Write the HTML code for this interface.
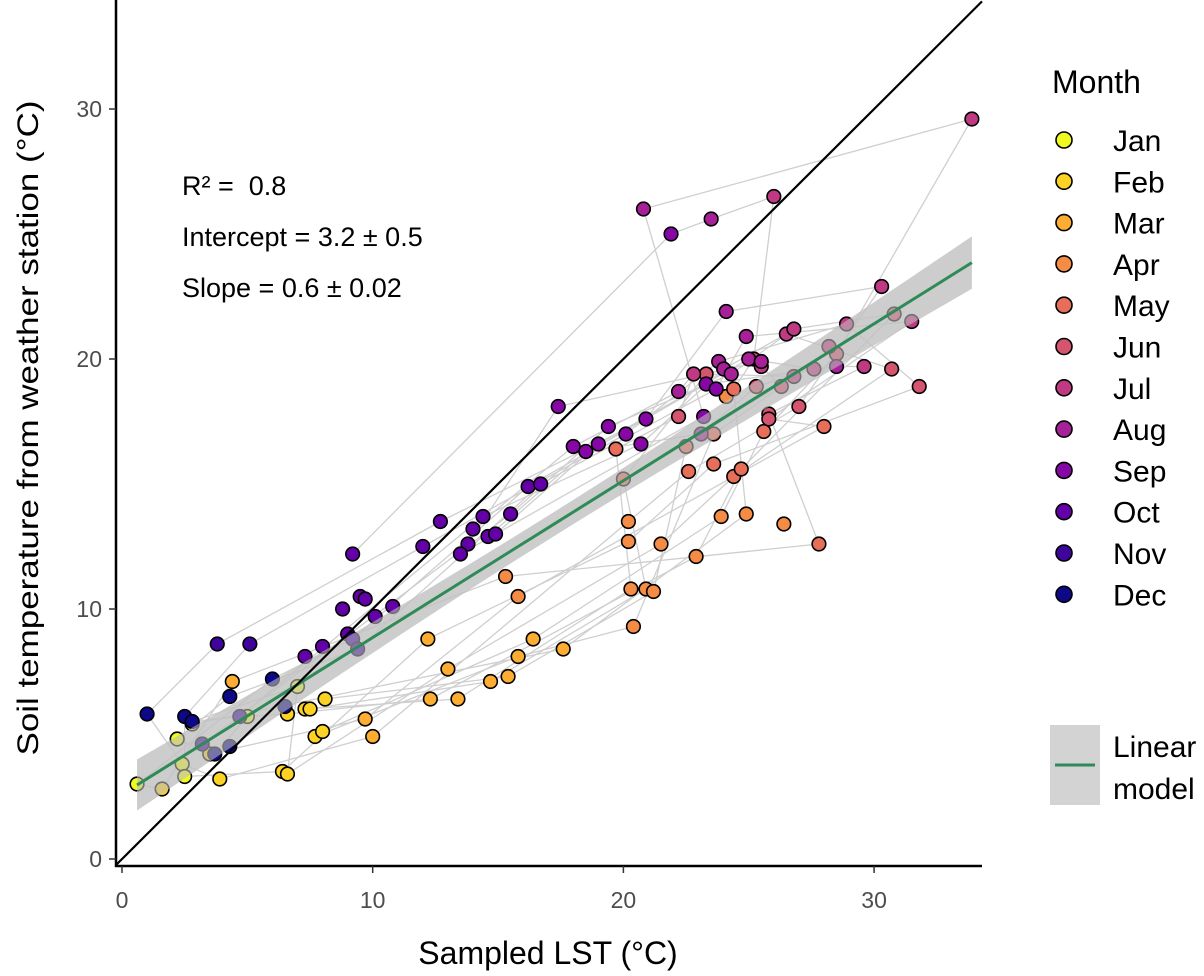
<!DOCTYPE html>
<html><head><meta charset="utf-8">
<style>
html,body{margin:0;padding:0;background:#fff;}
svg{display:block;font-family:"Liberation Sans Narrow","Liberation Sans",sans-serif;}
</style></head>
<body>
<svg id="chart" width="1204" height="976" viewBox="0 0 1204 976">
  <g id="grey-lines"></g>
  <g id="ribbon-g"></g>
  <g id="points"></g>
  <g id="ribbon-top"></g>
  <g id="axes"></g>
  <text x="182" y="195" font-size="27" xml:space="preserve">R² =  0.8</text>
  <text x="182" y="246" font-size="27">Intercept = 3.2 ± 0.5</text>
  <text x="182" y="297" font-size="27">Slope = 0.6 ± 0.02</text>
  <text x="548" y="964" font-size="32" text-anchor="middle">Sampled LST (°C)</text>
  <text transform="translate(38,428) rotate(-90)" font-size="30" text-anchor="middle" textLength="655" lengthAdjust="spacingAndGlyphs">Soil temperature from weather station (°C)</text>
  <g id="legend">
    <text x="1052" y="93" font-size="32">Month</text>
  </g>
  <g>
    <rect x="1050" y="725" width="50" height="80" fill="#d3d3d3"/>
    <line x1="1055" y1="765" x2="1095" y2="765" stroke="#2e8b57" stroke-width="3"/>
    <text x="1113" y="757" font-size="30">Linear</text>
    <text x="1113" y="799" font-size="30">model</text>
  </g>
</svg>
<script>
const months = ["Jan","Feb","Mar","Apr","May","Jun","Jul","Aug","Sep","Oct","Nov","Dec"];
const monthColors = ["#F0F921","#FCD225","#FDAD32","#F58C46","#E76F5A","#D5546E","#C03A83","#A62098","#8707A6","#6300A7","#3E049C","#0D0887"];
const sampledLST = [
 [0.6,2.2,2.4,2.5,7.0,5.0],
 [1.6,3.5,3.9,6.4,6.6,6.6,7.3,7.5,8.1,7.7,8.0,2.8],
 [4.4,9.7,10.0,12.2,13.0,12.3,13.4,14.7,15.4,15.8,16.4,17.6],
 [15.3,15.8,20.2,20.2,21.5,22.9,20.3,20.9,21.2,20.4,23.9,24.9,26.4,24.1],
 [27.8,28.0,22.6,23.6,24.4,24.7,19.7,20.0,22.5,23.6,25.6,24.4],
 [25.8,25.8,27.0,31.8,30.7,30.8,22.2,23.3,25.3,26.3,28.5,25.2],
 [29.6,31.5,30.3,28.9,26.5,26.8,22.8,26.8,27.6,25.5,33.9,26.0,28.2],
 [28.5,24.9,24.1,23.8,24.0,24.3,22.2,23.1,25.0,25.5,20.8,23.5],
 [23.3,23.7,20.9,20.1,20.7,19.4,18.0,18.5,19.0,17.4,23.2,21.9],
 [16.2,16.7,12.7,12.0,14.4,15.5,14.0,14.6,14.9,13.8,13.5,9.2,9.5,9.7,8.8,10.1,10.8,9.0,8.0,7.3],
 [9.2,9.4,3.8,5.1,4.7,3.2],
 [6.0,4.3,1.0,2.5,2.8,3.7,4.3,6.5]
];
const soilTemp = [
 [3.0,4.8,3.8,3.3,6.9,5.7],
 [2.8,4.2,3.2,3.5,3.4,5.8,6.0,6.0,6.4,4.9,5.1,5.4],
 [7.1,5.6,4.9,8.8,7.6,6.4,6.4,7.1,7.3,8.1,8.8,8.4],
 [11.3,10.5,13.5,12.7,12.6,12.1,10.8,10.8,10.7,9.3,13.7,13.8,13.4,18.5],
 [12.6,17.3,15.5,15.8,15.3,15.6,16.4,15.2,16.5,17.0,17.1,18.8],
 [17.8,17.6,18.1,18.9,19.6,21.8,17.7,19.4,18.9,18.9,20.2,20.0],
 [19.7,21.5,22.9,21.4,21.0,21.2,19.4,19.3,19.6,19.7,29.6,26.5,20.5],
 [19.7,20.9,21.9,19.9,19.6,19.4,18.7,17.0,20.0,19.9,26.0,25.6],
 [19.0,18.8,17.6,17.0,16.6,17.3,16.5,16.3,16.6,18.1,17.7,25.0],
 [14.9,15.0,13.5,12.5,13.7,13.8,13.2,12.9,13.0,12.6,12.2,12.2,10.5,10.4,10.0,9.7,10.1,9.0,8.5,8.1],
 [8.8,8.4,8.6,8.6,5.7,4.6],
 [7.2,6.5,5.8,5.7,5.5,4.2,4.5,6.1]
];
const xTicks = [0,10,20,30];
const yTicks = [0,10,20,30];

const NS = "http://www.w3.org/2000/svg";
const X = v => 122 + v * 25.07;
const Y = v => 859 - v * 25;
function mk(tag, attrs, parent){
  const e = document.createElementNS(NS, tag);
  for (const k in attrs) e.setAttribute(k, attrs[k]);
  parent.appendChild(e);
  return e;
}

const gl = document.getElementById("grey-lines");
for (let m = 0; m < 12; m++) {
  const n = (m + 1) % 12;
  const cnt = Math.min(sampledLST[m].length, sampledLST[n].length);
  for (let i = 0; i < cnt; i++) {
    const l = mk("line", {x1:X(sampledLST[m][i]), y1:Y(soilTemp[m][i]), x2:X(sampledLST[n][i]), y2:Y(soilTemp[n][i]), stroke:"#cfcfcf", "stroke-width":1.3}, gl);
    
    
  }
}

let xs = [], ys = [];
sampledLST.forEach((a, m) => a.forEach((v, i) => { xs.push(v); ys.push(soilTemp[m][i]); }));
const N = xs.length;
const mx = xs.reduce((a,b)=>a+b,0)/N, my = ys.reduce((a,b)=>a+b,0)/N;
let sxx=0, sxy=0;
for (let i=0;i<N;i++){ sxx+=(xs[i]-mx)**2; sxy+=(xs[i]-mx)*(ys[i]-my); }
const b1 = sxy/sxx, b0 = my - b1*mx;
let sse=0; for (let i=0;i<N;i++) sse += (ys[i]-b0-b1*xs[i])**2;
const s = Math.sqrt(sse/(N-2));
const xmin = Math.min(...xs), xmax = Math.max(...xs);
let up=[], lo=[], mid=[];
for (let k=0;k<=40;k++){
  const xv = xmin + (xmax-xmin)*k/40;
  const se = 1.97*s*Math.sqrt(1/N + (xv-mx)**2/sxx);
  const f = b0 + b1*xv;
  up.push(X(xv)+","+Y(f+se)); lo.unshift(X(xv)+","+Y(f-se)); mid.push(X(xv)+","+Y(f));
}
const rib = mk("polygon", {points: up.concat(lo).join(" "), fill:"#cfcfcf", opacity:0.5}, document.getElementById("ribbon-g"));



const pg = document.getElementById("points");
for (let m = 0; m < 12; m++) {
  sampledLST[m].forEach((v, i) => {
    const c = mk("circle", {cx:X(v), cy:Y(soilTemp[m][i]), r:6.8, fill:monthColors[m], stroke:"#000", "stroke-width":1.6}, pg);
    
    
  });
}
const rt = document.getElementById("ribbon-top");
const rib2 = mk("polygon", {points: up.concat(lo).join(" "), fill:"#bdbdbd", opacity:0.6}, rt);


const fit = mk("polyline", {points: mid.join(" "), fill:"none", stroke:"#2e8b57", "stroke-width":3}, rt);



const ax = document.getElementById("axes");
const clipX = 982;
const one = mk("line", {x1:116, y1:Y((116-122)/25.07), x2:clipX, y2:Y((clipX-122)/25.07), stroke:"#000", "stroke-width":2.2}, ax);


const ya = mk("line", {x1:116, y1:0, x2:116, y2:867, stroke:"#000", "stroke-width":2.5}, ax);


const xa = mk("line", {x1:115, y1:866, x2:982, y2:866, stroke:"#000", "stroke-width":2.5}, ax);


xTicks.forEach(t => {
  const tk = mk("line", {x1:X(t), y1:866, x2:X(t), y2:873, stroke:"#333", "stroke-width":1.5}, ax);
  
  
  const tx = mk("text", {x:X(t), y:908, "font-size":23, fill:"#4d4d4d", "text-anchor":"middle"}, ax);
  tx.textContent = t;
  
  
});
yTicks.forEach(t => {
  const tk = mk("line", {x1:109, y1:Y(t), x2:116, y2:Y(t), stroke:"#333", "stroke-width":1.5}, ax);
  
  
  const tx = mk("text", {x:102, y:Y(t)+8, "font-size":23, fill:"#4d4d4d", "text-anchor":"end"}, ax);
  tx.textContent = t;
  
  
});

const lg = document.getElementById("legend");
months.forEach((mn, i) => {
  const y = 140 + i * 41.3;
  const c = mk("circle", {cx:1064, cy:y, r:8, fill:monthColors[i], stroke:"#000", "stroke-width":1.6}, lg);
  
  
  const t = mk("text", {x:1113, y:y+11, "font-size":30}, lg);
  t.textContent = mn;
  
  
});
</script>
</body></html>
